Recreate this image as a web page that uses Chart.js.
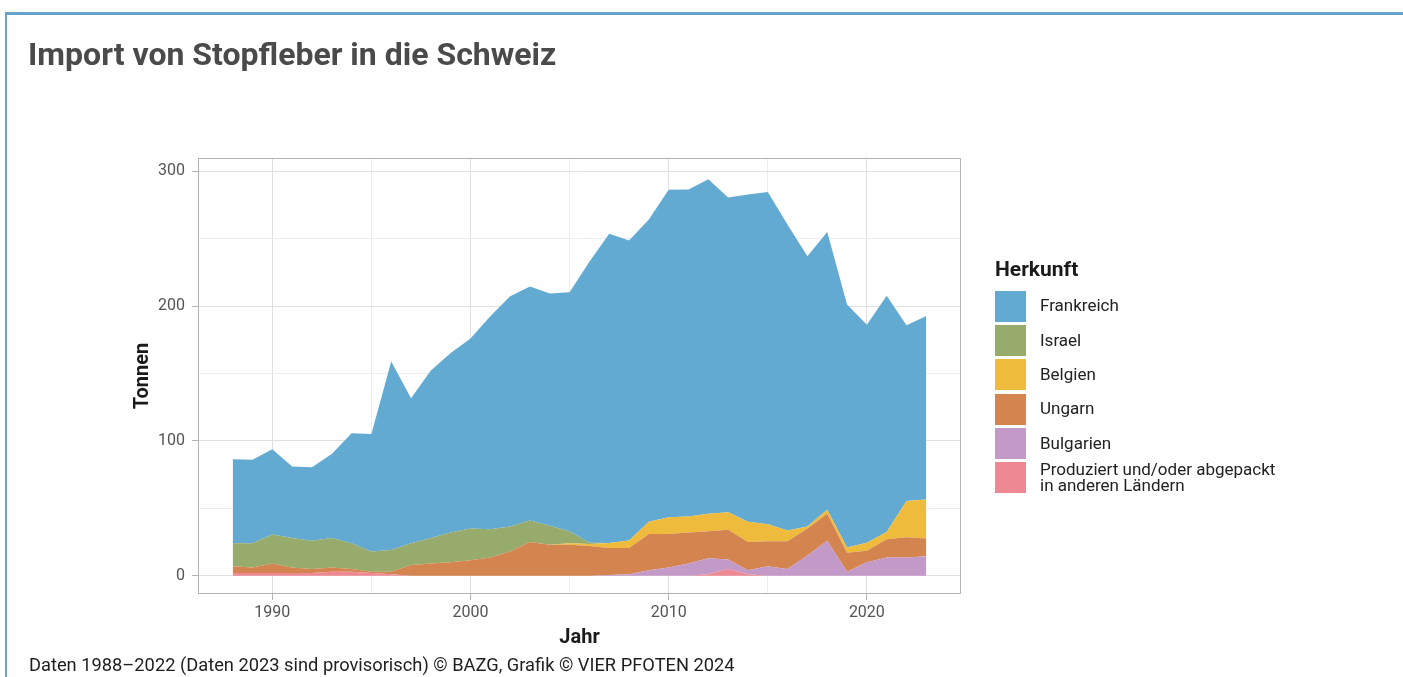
<!DOCTYPE html>
<html lang="de">
<head>
<meta charset="utf-8">
<title>Import von Stopfleber in die Schweiz</title>
<script src="https://cdn.jsdelivr.net/npm/chart.js@4.4.1/dist/chart.umd.min.js"></script>
<style>
    html, body {
        margin: 0;
        padding: 0;
        background: #ffffff;
        font-family: Roboto, 'Noto Sans', sans-serif;
    }
    #page {
        position: relative;
        width: 1403px;
        height: 677px;
        overflow: hidden;
    }
    #frame {
        position: absolute;
        left: 5px;
        top: 12px;
        width: 1420px;
        height: 700px;
        border-top: 3px solid #67a3cd;
        border-left: 2px solid #67a3cd;
    }
    #chart {
        position: absolute;
        left: 0;
        top: 0;
    }
    .title {
        position: absolute;
        left: 28px;
        top: 38px;
        font-size: 32px;
        line-height: 32px;
        font-weight: 700;
        color: #4a4a4a;
        white-space: nowrap;
    }
    .footer {
        position: absolute;
        left: 29px;
        top: 656px;
        font-size: 18.3px;
        line-height: 18.3px;
        color: #1e1e1e;
        white-space: nowrap;
    }
    .legend-title {
        position: absolute;
        left: 995px;
        top: 259px;
        font-size: 21px;
        line-height: 21px;
        font-weight: 700;
        color: #1a1a1a;
    }
    .legend-row {
        position: absolute;
        left: 995px;
        height: 31px;
        display: flex;
        align-items: center;
    }
    .legend-row .swatch {
        width: 31px;
        height: 31px;
        margin-right: 14px;
        flex: none;
    }
    .legend-row .label {
        font-size: 17px;
        line-height: 15.5px;
        color: #222222;
        white-space: nowrap;
    }
</style>
</head>
<body>
<div id="page">
    <div id="frame"></div>
    <canvas id="chart" width="1403" height="677"></canvas>
    <div class="title">Import von Stopfleber in die Schweiz</div>
    <div class="legend-title">Herkunft</div>
    <div id="legend"></div>
    <div class="footer">Daten 1988–2022 (Daten 2023 sind provisorisch) © BAZG, Grafik © VIER PFOTEN 2024</div>
</div>
<script>
// Jahre 1988-2023
const years = [1988, 1989, 1990, 1991, 1992, 1993, 1994, 1995, 1996, 1997,
    1998, 1999, 2000, 2001, 2002, 2003, 2004, 2005, 2006, 2007,
    2008, 2009, 2010, 2011, 2012, 2013, 2014, 2015, 2016, 2017,
    2018, 2019, 2020, 2021, 2022, 2023];

// Tonnen pro Herkunft
const frankreich = [62.4, 62, 63.3, 53, 54.5, 62.4, 81.7, 87.2, 140, 107.7,
    124.3, 133.3, 141.1, 158, 170.8, 173.7, 172.4, 177.3, 208.5, 229.5,
    222.5, 224.4, 243.2, 242.7, 248.2, 233.7, 243, 246.6, 227, 200.6,
    206, 180.2, 161.8, 175.3, 130.3, 136.3];
const israel = [17, 18, 21.5, 22, 21, 22, 19, 15, 16, 16,
    19, 22, 23.5, 21, 18.5, 16, 14, 9, 1, 0,
    0, 0, 0, 0, 0, 0, 0, 0, 0, 0,
    0, 0, 0, 0, 0, 0];
const belgien = [0, 0, 0, 0, 0, 0, 0, 0, 0, 0,
    0, 0, 0, 0, 0, 0, 0, 1, 1.5, 3.7,
    5.7, 9, 12.3, 12, 13, 13, 15, 12.6, 8, 1.5,
    3, 4, 6, 5.5, 27, 29];
const ungarn = [5, 4, 7, 4, 3, 3, 2, 1, 2, 8,
    9, 10, 11.5, 13.5, 18, 25, 23, 23, 22, 20,
    19.5, 27, 25, 23, 20, 22, 21, 18.5, 20.5, 20,
    20, 14, 8.5, 13.5, 15, 13];
const bulgarien = [0, 0, 0, 0, 0, 0, 0, 0, 0, 0,
    0, 0, 0, 0, 0, 0, 0, 0, 0, 0.5,
    1, 4, 6, 9, 12, 7, 3, 7, 5, 15,
    26, 3, 10, 13.5, 13.5, 14.5];
const andere = [2, 2, 2, 2, 2, 3, 3, 2, 1, 0,
    0, 0, 0, 0, 0, 0, 0, 0, 0, 0,
    0, 0, 0, 0, 1, 5, 1, 0, 0, 0,
    0, 0, 0, 0, 0, 0];

const yTicks = [0, 50, 100, 150, 200, 250, 300];
const xTicks = [1990, 1995, 2000, 2005, 2010, 2015, 2020];

// bottom of the stack first
const SERIES = [
    { label: ['Produziert und/oder abgepackt', 'in anderen Ländern'], data: andere, color: '#ee8893' },
    { label: ['Bulgarien'], data: bulgarien, color: '#c39ac7' },
    { label: ['Ungarn'], data: ungarn, color: '#d4844e' },
    { label: ['Belgien'], data: belgien, color: '#efbb3c' },
    { label: ['Israel'], data: israel, color: '#96ab6c' },
    { label: ['Frankreich'], data: frankreich, color: '#63aad3' }
];

const GRID_MAJOR = '#e0e0e0';
const GRID_MINOR = '#ededed';
const AXIS_GREY = '#b3b3b3';

Chart.defaults.font.family = 'Roboto, "Noto Sans", sans-serif';

const panelBorder = {
    id: 'panelBorder',
    afterDatasetsDraw(chart) {
        const { ctx, chartArea } = chart;
        ctx.save();
        ctx.strokeStyle = AXIS_GREY;
        ctx.lineWidth = 1;
        ctx.strokeRect(chartArea.left + 0.5, chartArea.top + 0.5,
            chartArea.right - chartArea.left - 1, chartArea.bottom - chartArea.top - 1);
        ctx.restore();
    }
};

new Chart(document.getElementById('chart'), {
    type: 'line',
    data: {
        labels: years,
        datasets: SERIES.map((s, i) => ({
            label: s.label.join(' '),
            data: s.data,
            backgroundColor: s.color,
            borderColor: s.color,
            borderWidth: 0,
            pointRadius: 0,
            tension: 0,
            fill: i === 0 ? 'origin' : '-1'
        }))
    },
    options: {
        responsive: false,
        animation: false,
        layout: {
            padding: { left: 131, right: 442, top: 158, bottom: 27 }
        },
        plugins: {
            legend: { display: false },
            tooltip: { enabled: false }
        },
        scales: {
            x: {
                type: 'linear',
                min: 1986.25,
                max: 2024.75,
                afterBuildTicks: (scale) => {
                    scale.ticks = xTicks.map((v) => ({ value: v }));
                },
                afterFit: (scale) => {
                    scale.height = 56;
                },
                ticks: {
                    autoSkip: false,
                    maxRotation: 0,
                    padding: 3,
                    color: '#555555',
                    font: { size: 16 },
                    callback: (value) => (value % 10 === 0 ? String(value) : '')
                },
                grid: {
                    color: (ctx) => (ctx.tick && ctx.tick.value % 10 === 0 ? GRID_MAJOR : GRID_MINOR),
                    tickColor: (ctx) => (ctx.tick && ctx.tick.value % 10 === 0 ? AXIS_GREY : 'rgba(0,0,0,0)'),
                    tickLength: 6,
                    lineWidth: 1
                },
                border: { display: false },
                title: {
                    display: true,
                    text: 'Jahr',
                    color: '#1a1a1a',
                    font: { size: 20, weight: 'bold' },
                    padding: 0
                }
            },
            y: {
                stacked: true,
                min: -13.6,
                max: 310,
                afterBuildTicks: (scale) => {
                    scale.ticks = yTicks.map((v) => ({ value: v }));
                },
                afterFit: (scale) => {
                    scale.width = 67;
                },
                ticks: {
                    padding: 7,
                    color: '#555555',
                    font: { size: 16 },
                    callback: (value) => (value % 100 === 0 ? String(value) : '')
                },
                grid: {
                    color: (ctx) => (ctx.tick && ctx.tick.value % 100 === 0 ? GRID_MAJOR : GRID_MINOR),
                    tickColor: (ctx) => (ctx.tick && ctx.tick.value % 100 === 0 ? AXIS_GREY : 'rgba(0,0,0,0)'),
                    tickLength: 6,
                    lineWidth: 1
                },
                border: { display: false },
                title: {
                    display: true,
                    text: 'Tonnen',
                    color: '#1a1a1a',
                    font: { size: 20, weight: 'bold' },
                    padding: 0
                }
            }
        }
    },
    plugins: [panelBorder]
});

// legend: Frankreich on top, like the stack
const legendEl = document.getElementById('legend');
const LEGEND_TOP = 290.7;
const LEGEND_STEP = 34.33;
legendEl.innerHTML = SERIES.slice().reverse().map((s, i) => `
    <div class="legend-row" style="top:${(LEGEND_TOP + i * LEGEND_STEP).toFixed(1)}px">
        <div class="swatch" style="background:${s.color}"></div>
        <div class="label">${s.label.join('<br>')}</div>
    </div>`).join('');
</script>
</body>
</html>
